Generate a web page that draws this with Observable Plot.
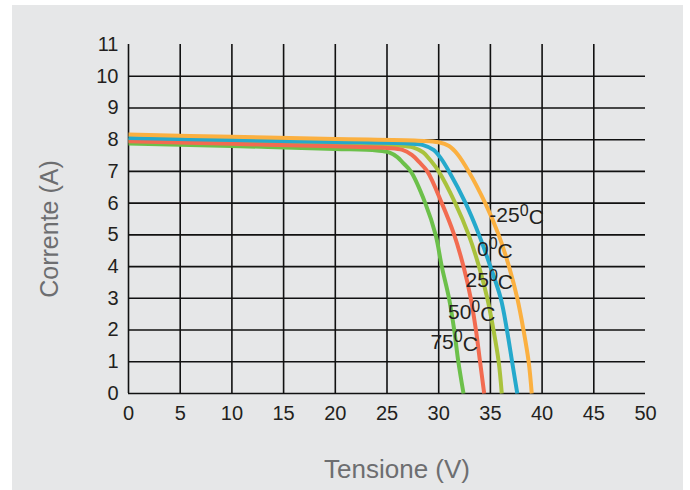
<!DOCTYPE html>
<html><head><meta charset="utf-8">
<script src="https://cdn.jsdelivr.net/npm/d3@7"></script>
<script src="https://cdn.jsdelivr.net/npm/@observablehq/plot@0.6"></script>
<style>
body{margin:0;background:#fff;}
#bg{position:absolute;left:12px;top:5px;width:671px;height:485px;background:#e6e7e8;}
#chart{position:absolute;left:0;top:0;}
</style></head><body><div id="bg"></div><div id="chart"></div>
<script>
// Tick labels / grid
const xTicks = [0,5,10,15,20,25,30,35,40,45,50];
const xGrid = [0,5,10,15,20,25,30,35,40,45];
const yTicks = [0,1,2,3,4,5,6,7,8,9,10,11];
const yGrid = [0,1,2,3,4,5,6,7,8,9,10];

// Series (temperature), drawing order
const seriesNames = ["25","75","50","0","-25"];
const seriesColors = ["#a9c23c","#6cc04a","#f26b50","#25a9cc","#fbb040"];

// I-V curves: voltage (V) and current (A)
const vM25 = [0, 10, 20, 28, 30, 31, 31.8, 32.9, 34.5, 35.8, 36.8, 37.6, 38.2, 38.7, 39.0];
const iM25 = [8.16, 8.09, 8.02, 7.97, 7.92, 7.80, 7.55, 7.0, 6.0, 5.0, 4.0, 3.0, 2.0, 1.0, 0];
const v0 = [0, 10, 20, 27, 28.5, 29.5, 30.2, 31.0, 32.6, 33.9, 35.0, 36.0, 36.6, 37.1, 37.6];
const i0 = [8.05, 7.99, 7.93, 7.88, 7.83, 7.68, 7.42, 7.0, 6.0, 5.0, 4.0, 3.0, 2.0, 1.0, 0];
const v25 = [0, 10, 20, 26, 27.5, 28.5, 29.2, 30.0, 31.6, 32.9, 33.9, 34.7, 35.3, 35.8, 36.1];
const i25 = [8.0, 7.94, 7.87, 7.82, 7.76, 7.6, 7.35, 7.0, 6.0, 5.0, 4.0, 3.0, 2.0, 1.0, 0];
const v50 = [0, 10, 20, 25, 26.5, 27.4, 28.1, 28.9, 30.3, 31.5, 32.4, 33.1, 33.6, 34.0, 34.4];
const i50 = [7.95, 7.87, 7.79, 7.74, 7.68, 7.52, 7.3, 7.0, 6.0, 5.0, 4.0, 3.0, 2.0, 1.0, 0];
const v75 = [0, 10, 20, 24, 25.2, 26.0, 26.6, 27.3, 28.7, 29.7, 30.3, 31.0, 31.5, 31.9, 32.4];
const i75 = [7.88, 7.80, 7.71, 7.66, 7.6, 7.45, 7.25, 7.0, 6.0, 5.0, 4.0, 3.0, 2.0, 1.0, 0];

// Curve labels
const labelText = ["-25", "0", "25", "50", "75"];
const labelV = [34.9, 33.7, 32.6, 30.9, 29.2];
const labelI = [5.61, 4.56, 3.56, 2.56, 1.62];

const curveSets = {"-25":[vM25,iM25],"0":[v0,i0],"25":[v25,i25],"50":[v50,i50],"75":[v75,i75]};
const rows = [];
for (const s of seriesNames) {
  const [vs, is] = curveSets[s];
  vs.forEach((v, k) => rows.push({series: s, v, i: is[k]}));
}
const labels = labelText.map((t, k) => ({t: t + "⁰C", v: labelV[k], i: labelI[k]}));

const font = "'Liberation Sans', Arial, Helvetica, sans-serif";
const plot = Plot.plot({
  width: 690,
  height: 490,
  marginLeft: 128,
  marginRight: 45,
  marginTop: 44,
  marginBottom: 97,
  style: {background: "transparent", fontFamily: font, color: "#231f20"},
  x: {domain: [0, 50]},
  y: {domain: [0, 11]},
  color: {domain: seriesNames, range: seriesColors},
  marks: [
    Plot.ruleY(yGrid, {x1: xTicks[0], x2: xTicks[xTicks.length-1], stroke: "#111", strokeWidth: 1.6}),
    Plot.ruleX(xGrid, {y1: yTicks[0], y2: yTicks[yTicks.length-1], stroke: "#111", strokeWidth: 1.6}),
    Plot.axisX({ticks: xTicks, tickSize: 0, tickPadding: 12, fontSize: 20, label: null, fill: "#231f20"}),
    Plot.axisY({ticks: yTicks, tickSize: 0, tickPadding: 10, fontSize: 20, label: null, fill: "#231f20"}),
    Plot.line(rows, {x: "v", y: "i", z: "series", stroke: "series", strokeWidth: 4, curve: "catmull-rom", strokeLinejoin: "round", strokeLinecap: "butt"}),
    Plot.text(labels, {x: "v", y: "i", text: "t", textAnchor: "start", lineAnchor: "middle", fontSize: 21, fill: "#231f20"}),
    Plot.text(["Tensione (V)"], {frameAnchor: "bottom", dx: 10, dy: 84, fontSize: 26, fill: "#6d6e70"}),
    Plot.text(["Corrente (A)"], {frameAnchor: "left", textAnchor: "middle", dx: -79, dy: 10, rotate: -90, fontSize: 25, fill: "#6d6e70"})
  ]
});
// superscript the "0" in degree labels
d3.select(plot).selectAll("text").each(function() {
  const s = this.textContent;
  if (/⁰C$/.test(s) && this.childElementCount === 0) {
    const num = s.replace("⁰C", "");
    const el = d3.select(this);
    el.text(null);
    el.append("tspan").text(num);
    el.append("tspan").attr("dy", "-0.42em").attr("font-size", "16px").text("0");
    el.append("tspan").attr("dy", "0.42em").text("C");
  }
});
document.getElementById("chart").append(plot);
</script>
</body></html>
